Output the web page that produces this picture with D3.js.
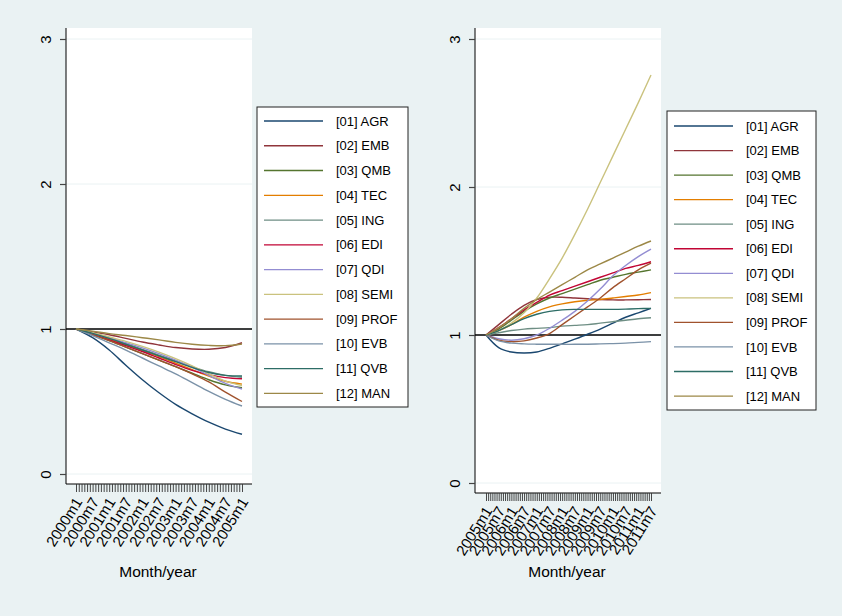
<!DOCTYPE html>
<html>
<head>
<meta charset="utf-8">
<script src="https://cdn.jsdelivr.net/npm/d3@7"></script>
<style>
  body { margin: 0; background: #eaf2f3; }
  text { font-family: "Liberation Sans", Arial, sans-serif; }
</style>
</head>
<body>
<div id="chart"></div>
<script>
// series names and colours (Stata s2color)
var seriesNames = ["[01] AGR", "[02] EMB", "[03] QMB", "[04] TEC", "[05] ING", "[06] EDI",
                   "[07] QDI", "[08] SEMI", "[09] PROF", "[10] EVB", "[11] QVB", "[12] MAN"];
var seriesColors = ["#1a476f", "#90353b", "#55752f", "#e37e00", "#6e8e84", "#c10534",
                    "#938dd2", "#cac27e", "#a0522d", "#7b92a8", "#2d6d66", "#9c8847"];

// left panel: 2000m1..2005m1, values every 6 months
var leftLabels = ["2000m1", "2000m7", "2001m1", "2001m7", "2002m1", "2002m7",
                  "2003m1", "2003m7", "2004m1", "2004m7", "2005m1"];
var leftAGR  = [1, 0.94, 0.855, 0.75, 0.65, 0.56, 0.48, 0.415, 0.357, 0.31, 0.274];
var leftEMB  = [1, 0.98, 0.96, 0.935, 0.91, 0.89, 0.872, 0.862, 0.86, 0.872, 0.905];
var leftQMB  = [1, 0.96, 0.92, 0.875, 0.83, 0.785, 0.74, 0.695, 0.65, 0.615, 0.595];
var leftTEC  = [1, 0.965, 0.93, 0.89, 0.85, 0.81, 0.765, 0.72, 0.675, 0.64, 0.62];
var leftING  = [1, 0.97, 0.94, 0.90, 0.86, 0.82, 0.78, 0.74, 0.705, 0.68, 0.667];
var leftEDI  = [1, 0.965, 0.925, 0.885, 0.845, 0.80, 0.755, 0.715, 0.685, 0.665, 0.657];
var leftQDI  = [1, 0.97, 0.94, 0.905, 0.87, 0.83, 0.785, 0.735, 0.68, 0.625, 0.586];
var leftSEMI = [1, 0.975, 0.945, 0.915, 0.88, 0.84, 0.795, 0.745, 0.69, 0.64, 0.61];
var leftPROF = [1, 0.96, 0.92, 0.875, 0.83, 0.785, 0.74, 0.69, 0.635, 0.565, 0.50];
var leftEVB  = [1, 0.955, 0.905, 0.855, 0.80, 0.745, 0.69, 0.63, 0.57, 0.515, 0.469];
var leftQVB  = [1, 0.97, 0.935, 0.895, 0.855, 0.815, 0.775, 0.735, 0.70, 0.68, 0.676];
var leftMAN  = [1, 0.985, 0.968, 0.955, 0.94, 0.925, 0.908, 0.895, 0.887, 0.885, 0.897];

// right panel: 2005m1..2011m7, values every 6 months
var rightLabels = ["2005m1", "2005m7", "2006m1", "2006m7", "2007m1", "2007m7", "2008m1",
                   "2008m7", "2009m1", "2009m7", "2010m1", "2010m7", "2011m1", "2011m7"];
var rightAGR  = [1, 0.915, 0.885, 0.878, 0.885, 0.91, 0.94, 0.972, 1.005, 1.04, 1.08, 1.12, 1.15, 1.18];
var rightEMB  = [1, 1.07, 1.14, 1.20, 1.24, 1.255, 1.255, 1.25, 1.245, 1.24, 1.237, 1.237, 1.238, 1.24];
var rightQMB  = [1, 1.04, 1.10, 1.16, 1.21, 1.25, 1.28, 1.31, 1.34, 1.37, 1.39, 1.41, 1.425, 1.44];
var rightTEC  = [1, 1.03, 1.07, 1.12, 1.16, 1.19, 1.21, 1.225, 1.235, 1.24, 1.25, 1.26, 1.27, 1.286];
var rightING  = [1, 1.015, 1.03, 1.04, 1.045, 1.05, 1.06, 1.065, 1.07, 1.08, 1.09, 1.10, 1.11, 1.117];
var rightEDI  = [1, 1.05, 1.11, 1.17, 1.22, 1.27, 1.30, 1.33, 1.36, 1.39, 1.42, 1.45, 1.47, 1.495];
var rightQDI  = [1, 0.975, 0.965, 0.975, 1.0, 1.045, 1.10, 1.16, 1.23, 1.31, 1.40, 1.47, 1.53, 1.58];
var rightSEMI = [1, 1.03, 1.08, 1.15, 1.25, 1.38, 1.52, 1.68, 1.85, 2.03, 2.21, 2.39, 2.57, 2.757];
var rightPROF = [1, 0.965, 0.955, 0.96, 0.98, 1.01, 1.07, 1.13, 1.19, 1.25, 1.32, 1.38, 1.44, 1.485];
var rightEVB  = [1, 0.96, 0.945, 0.94, 0.938, 0.937, 0.937, 0.937, 0.938, 0.94, 0.942, 0.945, 0.95, 0.955];
var rightQVB  = [1, 1.03, 1.07, 1.11, 1.14, 1.16, 1.17, 1.173, 1.173, 1.173, 1.173, 1.175, 1.178, 1.18];
var rightMAN  = [1, 1.05, 1.11, 1.18, 1.24, 1.29, 1.34, 1.39, 1.44, 1.48, 1.52, 1.56, 1.60, 1.635];

var leftSeries = [leftAGR, leftEMB, leftQMB, leftTEC, leftING, leftEDI,
                  leftQDI, leftSEMI, leftPROF, leftEVB, leftQVB, leftMAN];
var rightSeries = [rightAGR, rightEMB, rightQMB, rightTEC, rightING, rightEDI,
                   rightQDI, rightSEMI, rightPROF, rightEVB, rightQVB, rightMAN];
var yTicks = [0, 1, 2, 3];

var svg = d3.select("#chart").append("svg")
  .attr("width", 842)
  .attr("height", 616)
  .style("display", "block");

svg.append("rect")
  .attr("width", 842).attr("height", 616)
  .attr("fill", "#eaf2f3");

// draw one panel
function drawPanel(p) {
  var nMonths = (p.labels.length - 1) * 6;

  var x = d3.scaleLinear().domain([0, nMonths]).range([p.x0, p.x1]);
  var y = d3.scaleLinear().domain([0, 3]).range([p.y0, p.y3]);

  // plot region
  svg.append("rect")
    .attr("x", p.left).attr("y", p.top)
    .attr("width", p.right - p.left).attr("height", p.bottom - p.top)
    .attr("fill", "white");

  // gridlines
  svg.append("g").selectAll("line")
    .data(yTicks)
    .enter().append("line")
      .attr("x1", p.left).attr("x2", p.right)
      .attr("y1", function(d) { return y(d); })
      .attr("y2", function(d) { return y(d); })
      .attr("stroke", "#eaf2f3")
      .attr("stroke-width", 1);

  // reference line at 1
  svg.append("line")
    .attr("x1", p.left).attr("x2", p.right)
    .attr("y1", y(1)).attr("y2", y(1))
    .attr("stroke", "#000")
    .attr("stroke-width", 1.4);

  // lines
  var line = d3.line()
    .x(function(d, i) { return x(i * 6); })
    .y(function(d) { return y(d); })
    .curve(d3.curveCatmullRom.alpha(0.5));

  svg.append("g").selectAll("path")
    .data(p.series)
    .enter().append("path")
      .attr("d", function(d) { return line(d); })
      .attr("fill", "none")
      .attr("stroke", function(d, i) { return seriesColors[i]; })
      .attr("stroke-width", 1.4);

  // y axis
  var yAxis = svg.append("g")
    .attr("transform", "translate(" + p.left + ",0)")
    .call(d3.axisLeft(y).tickValues(yTicks).tickSize(6).tickFormat(d3.format("d")));
  yAxis.select(".domain")
    .attr("d", "M0," + p.top + "V" + p.bottom)
    .attr("stroke", "#000");
  yAxis.selectAll(".tick line").attr("stroke", "#444").attr("stroke-width", 1.2);
  yAxis.selectAll(".tick text")
    .attr("font-size", "15px")
    .attr("fill", "#000")
    .attr("x", 0).attr("y", 0)
    .attr("dy", "0.35em")
    .attr("transform", "translate(-20,0) rotate(-90)")
    .style("text-anchor", "middle");

  // x axis: a tick per month, a label every 6 months
  var xAxis = svg.append("g")
    .attr("transform", "translate(0," + p.bottom + ")")
    .call(d3.axisBottom(x)
      .tickValues(d3.range(0, nMonths + 1))
      .tickSize(8)
      .tickFormat(function(d) { return d % 6 === 0 ? p.labels[d / 6] : ""; }));
  xAxis.select(".domain")
    .attr("d", "M" + p.left + ",0H" + p.right)
    .attr("stroke", "#000");
  xAxis.selectAll(".tick line").attr("stroke", "#333").attr("stroke-width", 0.9);
  xAxis.selectAll(".tick text")
    .attr("font-size", "15px")
    .attr("fill", "#000")
    .attr("y", 0).attr("dy", "0.35em")
    .attr("transform", "translate(2,15) rotate(-58)")
    .style("text-anchor", "end");

  // axis title
  svg.append("text")
    .attr("x", p.titleX).attr("y", 577)
    .attr("font-size", "15.5px")
    .style("text-anchor", "middle")
    .text("Month/year");

  // legend
  var lg = svg.append("g");
  lg.append("rect")
    .attr("x", p.lx).attr("y", p.ly)
    .attr("width", p.lw).attr("height", p.lh)
    .attr("fill", "white")
    .attr("stroke", "#222")
    .attr("stroke-width", 1);
  var rows = lg.selectAll("g.row")
    .data(seriesNames)
    .enter().append("g")
      .attr("class", "row")
      .attr("transform", function(d, i) { return "translate(0," + (p.row0 + i * p.rowStep) + ")"; });
  rows.append("line")
    .attr("x1", p.lx + 7).attr("x2", p.lx + 66)
    .attr("stroke", function(d, i) { return seriesColors[i]; })
    .attr("stroke-width", 1.3);
  rows.append("text")
    .attr("x", p.lx + 79).attr("dy", "0.35em")
    .attr("font-size", "13px")
    .text(function(d) { return d; });
}

drawPanel({
  labels: leftLabels, series: leftSeries,
  left: 66, right: 252, top: 28, bottom: 484,
  x0: 76, x1: 242, y0: 474, y3: 39,
  titleX: 158,
  lx: 257, ly: 107, lw: 151, lh: 300, row0: 121, rowStep: 24.76
});

drawPanel({
  labels: rightLabels, series: rightSeries,
  left: 475, right: 661, top: 28, bottom: 493,
  x0: 486, x1: 651, y0: 483, y3: 39,
  titleX: 567,
  lx: 667, ly: 111, lw: 149, lh: 299, row0: 126, rowStep: 24.55
});
</script>
</body>
</html>
